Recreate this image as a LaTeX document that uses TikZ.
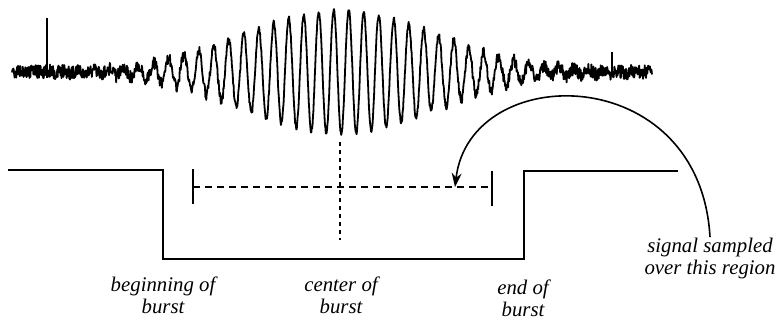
\documentclass[tikz,border=0pt]{standalone}
\usepackage{fontspec}
\setmainfont{Liberation Serif}
\usetikzlibrary{arrows.meta}

\begin{document}
\begin{tikzpicture}[x=0.5pt, y=-0.5pt, >={Stealth[length=7pt, width=5pt]},
    lbl/.style={align=center, font=\fontsize{10.4}{11}\selectfont\itshape, inner sep=0pt},
    gate/.style={line width=1.2pt, line join=miter},
    span/.style={line width=1.2pt, dash pattern=on 3.5pt off 2.5pt},
    mid/.style={line width=1.1pt, dash pattern=on 2pt off 2pt},
    tick/.style={line width=1pt}]
  \useasboundingbox (0,0) rectangle (780,323);
  % signal
  \pgfmathsetseed{11}
  \draw[line width=0.9pt, line join=round] plot[domain=12:652, samples=1500]
    (\x, {72 - 62*exp(-((\x-340)/136)^2)*sin(24*\x) + 7*rand*(1-0.75*exp(-((\x-340)/136)^2))});
  \draw[line width=1pt] (47,78) -- (47,18);
  \draw[line width=0.8pt] (612,72) -- (612,52);
  % gate
  \draw[gate] (8,170) -- (163,170) -- (163,259) -- (524,259) -- (524,171) -- (678,171);
  % sampled region
  \coordinate (l) at (193,187);
  \coordinate (r) at (492,187);
  \coordinate (tip) at (455,187);
  \coordinate (ctop) at (340,142);
  \coordinate (cbot) at (340,240);
  \draw[tick] (193,169) -- (193,204);
  \draw[tick] (492,171) -- (492,206);
  \draw[span] (l) -- (r);
  \draw[mid] (ctop) -- (cbot);
  % labels
  \node[lbl] (beg) at (163,295) {beginning of\\burst};
  \node[lbl] (cen) at (341,295) {center of\\burst};
  \node[lbl] (end) at (523,298) {end of\\burst};
  \node[lbl] (sig) at (710,258) {signal sampled\\over this region};
  \draw[->, line width=0.8pt] (sig.north) .. controls (700,60) and (470,60) .. (tip);
\end{tikzpicture}
\end{document}
